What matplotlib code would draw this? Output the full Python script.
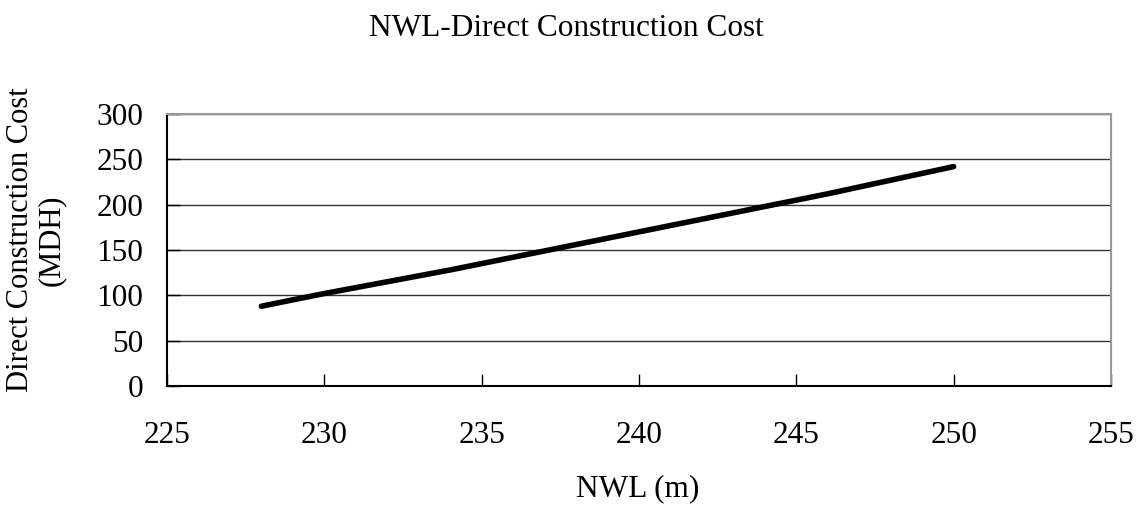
import matplotlib.pyplot as plt

plt.rcParams['font.family'] = ['Liberation Serif', 'DejaVu Serif']

# NWL (m) vs direct construction cost (MDH)
nwl = [228, 230, 232, 234, 236, 238, 240, 242, 244, 246, 248, 250]
cost = [88, 102, 115, 128, 142, 156, 170, 184, 198, 212, 227, 242]

x_ticks = [225, 230, 235, 240, 245, 250, 255]
y_ticks = [0, 50, 100, 150, 200, 250, 300]

fig = plt.figure(figsize=(11.39, 5.07), dpi=100)
ax = fig.add_axes([167 / 1139, 1 - 386 / 507, 944 / 1139, 272 / 507])

ax.plot(nwl, cost, color='black', linewidth=4, solid_capstyle='round')

ax.set_xlim(225, 255)
ax.set_ylim(0, 300)
ax.set_xticks(x_ticks)
ax.set_yticks(y_ticks)
ax.yaxis.grid(True, color='#333333', linewidth=1)
ax.set_axisbelow(True)

ax.tick_params(axis='both', direction='in', length=9, width=1, labelsize=22.5)
ax.tick_params(axis='x', pad=25)
ax.tick_params(axis='y', pad=17)

for side in ['left', 'bottom']:
    ax.spines[side].set_color('black')
    ax.spines[side].set_linewidth(1.5)
for side in ['top', 'right']:
    ax.spines[side].set_color('#999999')
    ax.spines[side].set_linewidth(1.5)

fig.text(566 / 1139, 1 - 28.5 / 507, 'NWL-Direct Construction Cost',
         ha='center', va='center', fontsize=22.5)
fig.text(638 / 1139, 1 - 489 / 507, 'NWL (m)', ha='center', va='center', fontsize=22.5)
fig.text(36 / 1139, 1 - 240 / 507, 'Direct Construction Cost\n(MDH)',
         ha='center', va='center', rotation=90, fontsize=22, linespacing=1.1)

fig.savefig('out.png', dpi=100)
